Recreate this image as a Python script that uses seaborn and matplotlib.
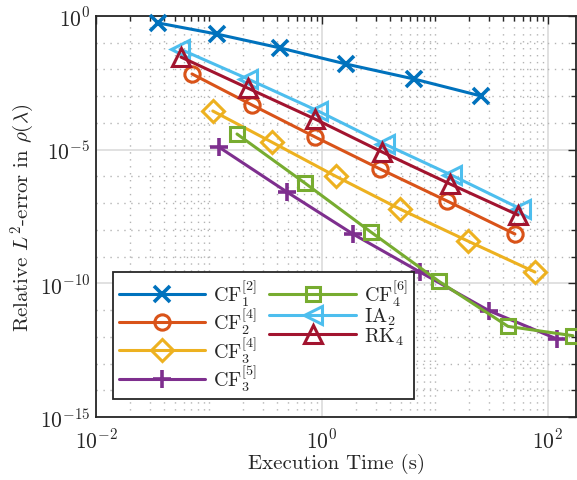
import numpy as np
import pandas as pd
import matplotlib
matplotlib.use("Agg")
import matplotlib.pyplot as plt
from matplotlib.ticker import LogLocator, FuncFormatter, NullFormatter
import seaborn as sns

# ---- data ----
series_names = [r"$\mathrm{CF}_1^{[2]}$", r"$\mathrm{CF}_2^{[4]}$", r"$\mathrm{CF}_3^{[4]}$",
                r"$\mathrm{CF}_3^{[5]}$", r"$\mathrm{CF}_4^{[6]}$", r"$\mathrm{IA}_2$", r"$\mathrm{RK}_4$"]

time_cf1 = [0.0354, 0.118, 0.425, 1.63, 6.52, 25.5]
err_cf1 = [0.55, 0.21, 0.064, 0.016, 0.0044, 0.00102]

time_cf2 = [0.0707, 0.240, 0.867, 3.26, 12.8, 51.0]
err_cf2 = [6.8e-3, 4.7e-4, 3.0e-5, 1.9e-6, 1.2e-7, 7.0e-9]

time_cf34 = [0.108, 0.361, 1.33, 4.90, 19.6, 76.7]
err_cf34 = [2.8e-4, 1.9e-5, 1.0e-6, 6.0e-8, 3.8e-9, 2.65e-10]

time_cf35 = [0.122, 0.49, 1.88, 7.37, 30.0, 120.0]
err_cf35 = [1.26e-5, 2.6e-7, 7.0e-9, 2.65e-10, 9.5e-12, 8.3e-13]

time_cf46 = [0.177, 0.707, 2.71, 10.8, 44.3, 166.0]
err_cf46 = [3.85e-5, 5.6e-7, 8.3e-9, 1.2e-10, 2.45e-12, 1.1e-12]

time_ia2 = [0.0554, 0.221, 0.922, 3.61, 14.1, 57.7]
err_ia2 = [0.058, 0.0044, 2.8e-4, 1.6e-5, 1.1e-6, 6.0e-8]

time_rk4 = [0.0565, 0.221, 0.867, 3.40, 13.6, 54.3]
err_rk4 = [0.029, 2.0e-3, 1.4e-4, 8.2e-6, 5.2e-7, 3.6e-8]

times = [time_cf1, time_cf2, time_cf34, time_cf35, time_cf46, time_ia2, time_rk4]
errors = [err_cf1, err_cf2, err_cf34, err_cf35, err_cf46, err_ia2, err_rk4]

colors = ["#0072BD", "#D95319", "#EDB120", "#7E2F8E", "#77AC30", "#4DBEEE", "#A2142F"]
markers = ["x", "o", "D", "+", "s", "<", "^"]
msizes = [11, 11, 11, 13, 10, 13, 13]

frames = []
for name, t, e in zip(series_names, times, errors):
    frames.append(pd.DataFrame({"time": t, "err": e, "method": name}))
df = pd.concat(frames, ignore_index=True)

# ---- style ----
sns.set_style("white")
plt.rcParams["font.family"] = ["cmr10", "DejaVu Serif"]
plt.rcParams["mathtext.fontset"] = "cm"
plt.rcParams["axes.formatter.use_mathtext"] = True
plt.rcParams["axes.unicode_minus"] = False

fig = plt.figure(figsize=(5.77, 4.81), dpi=100)
ax = fig.add_axes([96 / 577, 1 - 418 / 481, 480 / 577, 401 / 481])

for name, c, m, ms in zip(series_names, colors, markers, msizes):
    sub = df[df["method"] == name]
    sns.lineplot(data=sub, x="time", y="err", ax=ax, color=c, marker=m,
                 markersize=ms, markerfacecolor="none", markeredgecolor=c,
                 markeredgewidth=2.6 if m in ("x", "+") else 2.2,
                 linewidth=2.2, sort=False, estimator=None, label=name,
                 clip_on=False, zorder=3)

ax.set_xscale("log")
ax.set_yscale("log")
ax.set_xlim(1e-2, 177)
ax.set_ylim(1e-15, 1e0)

ax.xaxis.set_major_locator(LogLocator(base=100, numticks=10))
ax.xaxis.set_minor_locator(LogLocator(base=10, subs=np.arange(1, 10), numticks=30))
ax.yaxis.set_major_locator(LogLocator(base=1e5, numticks=10))
ax.yaxis.set_minor_locator(LogLocator(base=10, subs=(1.0,), numticks=40))
fmt = FuncFormatter(lambda v, p: r"$10^{%d}$" % int(round(np.log10(v))))
ax.xaxis.set_major_formatter(fmt)
ax.yaxis.set_major_formatter(fmt)
ax.xaxis.set_minor_formatter(NullFormatter())
ax.yaxis.set_minor_formatter(NullFormatter())

ax.grid(True, which="major", color="#dcdcdc", linewidth=1.2, linestyle="-", zorder=0)
ax.grid(True, which="minor", color="#b4b4b4", linewidth=1.0, linestyle=(0, (1, 4)), zorder=0)
ax.set_axisbelow(True)

ax.tick_params(which="both", direction="in", top=True, right=True, colors="#262626",
               labelsize=15.5, width=1.0)
ax.tick_params(which="major", length=6)
ax.tick_params(which="minor", length=3.5)
ax.tick_params(axis="x", which="major", pad=8)
ax.tick_params(axis="y", which="major", pad=4)
for s in ax.spines.values():
    s.set_color("#262626")
    s.set_linewidth(1.3)

ax.set_xlabel("Execution Time (s)", fontsize=15, color="#262626", labelpad=1)
ax.set_ylabel(r"Relative $L^2$-error in $\rho(\lambda)$", fontsize=15, color="#262626", labelpad=2)

leg = ax.legend(ncol=2, loc="lower left", bbox_to_anchor=(0.035, 0.045),
                borderaxespad=0, fontsize=14.5, frameon=True, fancybox=False,
                handlelength=4.3, handletextpad=0.4, columnspacing=0.6,
                labelspacing=-0.1, borderpad=0.3)
leg.get_frame().set_edgecolor("#262626")
leg.get_frame().set_linewidth(1.3)
leg.get_frame().set_alpha(1)
leg.set_zorder(5)

fig.savefig("out.png", dpi=100)
